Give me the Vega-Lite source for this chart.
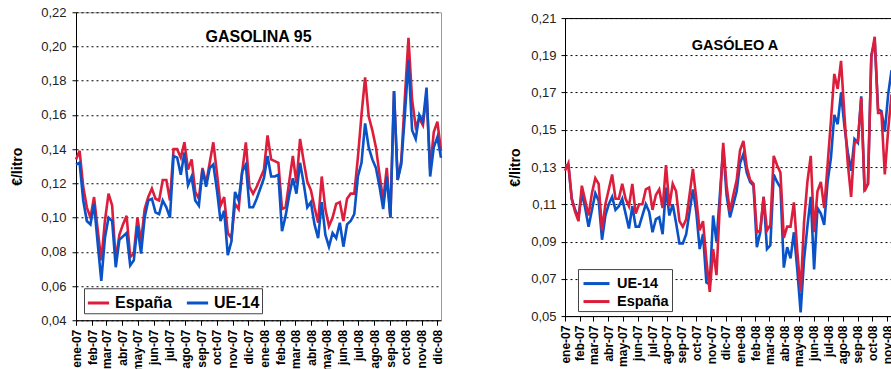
{
  "$schema": "https://vega.github.io/schema/vega-lite/v6.json",
  "padding": {"left": 10, "top": 5, "right": 0, "bottom": 0},
  "background": "white",
  "config": {
    "font": "Liberation Sans",
    "view": {"stroke": null},
    "axisY": {
      "grid": true, "gridDash": [2, 3], "gridColor": "black", "gridOpacity": 1, "gridWidth": 1,
      "domainColor": "black", "tickColor": "black", "tickSize": 4,
      "labelFontSize": 13, "labelColor": "#222",
      "labelExpr": "replace(format(datum.value, '.2f'), '.', ',')",
      "titleFontSize": 14, "titleFontWeight": "bold", "titleColor": "black"
    },
    "axisX": {
      "grid": false, "domainColor": "black", "tickColor": "black", "tickSize": 5,
      "labelPadding": 4, "labelAngle": -90, "labelFontSize": 12, "labelFontWeight": "bold", "labelColor": "black",
      "labelOverlap": false, "labelFlush": false,
      "tickCount": {"interval": "month", "step": 1},
      "labelExpr": "['ene','feb','mar','abr','may','jun','jul','ago','sep','oct','nov','dic'][utcmonth(datum.value)] + '-' + utcFormat(datum.value, '%y')"
    }
  },
  "datasets": {
    "gasolina": [
      {"semana": "2007-01-01", "España": 0.134, "UE-14": 0.131},
      {"semana": "2007-01-08", "España": 0.139, "UE-14": 0.132},
      {"semana": "2007-01-15", "España": 0.118, "UE-14": 0.110},
      {"semana": "2007-01-22", "España": 0.106, "UE-14": 0.098},
      {"semana": "2007-01-29", "España": 0.100, "UE-14": 0.096},
      {"semana": "2007-02-05", "España": 0.112, "UE-14": 0.108},
      {"semana": "2007-02-12", "España": 0.093, "UE-14": 0.085},
      {"semana": "2007-02-19", "España": 0.075, "UE-14": 0.063},
      {"semana": "2007-02-26", "España": 0.098, "UE-14": 0.088},
      {"semana": "2007-03-05", "España": 0.114, "UE-14": 0.100},
      {"semana": "2007-03-12", "España": 0.107, "UE-14": 0.098},
      {"semana": "2007-03-19", "España": 0.075, "UE-14": 0.071},
      {"semana": "2007-03-26", "España": 0.090, "UE-14": 0.087},
      {"semana": "2007-04-02", "España": 0.096, "UE-14": 0.089},
      {"semana": "2007-04-09", "España": 0.101, "UE-14": 0.091},
      {"semana": "2007-04-16", "España": 0.077, "UE-14": 0.072},
      {"semana": "2007-04-23", "España": 0.079, "UE-14": 0.075},
      {"semana": "2007-04-30", "España": 0.100, "UE-14": 0.095},
      {"semana": "2007-05-07", "España": 0.086, "UE-14": 0.079},
      {"semana": "2007-05-14", "España": 0.105, "UE-14": 0.100},
      {"semana": "2007-05-21", "España": 0.112, "UE-14": 0.110},
      {"semana": "2007-05-28", "España": 0.117, "UE-14": 0.111},
      {"semana": "2007-06-04", "España": 0.111, "UE-14": 0.103},
      {"semana": "2007-06-11", "España": 0.110, "UE-14": 0.102},
      {"semana": "2007-06-18", "España": 0.122, "UE-14": 0.110},
      {"semana": "2007-06-25", "España": 0.122, "UE-14": 0.106},
      {"semana": "2007-07-02", "España": 0.110, "UE-14": 0.100},
      {"semana": "2007-07-09", "España": 0.140, "UE-14": 0.136},
      {"semana": "2007-07-16", "España": 0.140, "UE-14": 0.135},
      {"semana": "2007-07-23", "España": 0.135, "UE-14": 0.125},
      {"semana": "2007-07-30", "España": 0.144, "UE-14": 0.138},
      {"semana": "2007-08-06", "España": 0.128, "UE-14": 0.119},
      {"semana": "2007-08-13", "España": 0.134, "UE-14": 0.124},
      {"semana": "2007-08-20", "España": 0.115, "UE-14": 0.110},
      {"semana": "2007-08-27", "España": 0.111, "UE-14": 0.107},
      {"semana": "2007-09-03", "España": 0.129, "UE-14": 0.128},
      {"semana": "2007-09-10", "España": 0.120, "UE-14": 0.118},
      {"semana": "2007-09-17", "España": 0.132, "UE-14": 0.129},
      {"semana": "2007-09-24", "España": 0.144, "UE-14": 0.131},
      {"semana": "2007-10-01", "España": 0.126, "UE-14": 0.116},
      {"semana": "2007-10-08", "España": 0.107, "UE-14": 0.098},
      {"semana": "2007-10-15", "España": 0.112, "UE-14": 0.104},
      {"semana": "2007-10-22", "España": 0.091, "UE-14": 0.078},
      {"semana": "2007-10-29", "España": 0.088, "UE-14": 0.086},
      {"semana": "2007-11-05", "España": 0.108, "UE-14": 0.115},
      {"semana": "2007-11-12", "España": 0.105, "UE-14": 0.110},
      {"semana": "2007-11-19", "España": 0.127, "UE-14": 0.127},
      {"semana": "2007-11-26", "España": 0.144, "UE-14": 0.131},
      {"semana": "2007-12-03", "España": 0.118, "UE-14": 0.106},
      {"semana": "2007-12-10", "España": 0.114, "UE-14": 0.106},
      {"semana": "2007-12-17", "España": 0.118, "UE-14": 0.111},
      {"semana": "2007-12-24", "España": 0.123, "UE-14": 0.117},
      {"semana": "2007-12-31", "España": 0.128, "UE-14": 0.123},
      {"semana": "2008-01-07", "España": 0.148, "UE-14": 0.136},
      {"semana": "2008-01-14", "España": 0.134, "UE-14": 0.124},
      {"semana": "2008-01-21", "España": 0.133, "UE-14": 0.124},
      {"semana": "2008-01-28", "España": 0.132, "UE-14": 0.125},
      {"semana": "2008-02-04", "España": 0.105, "UE-14": 0.092},
      {"semana": "2008-02-11", "España": 0.106, "UE-14": 0.101},
      {"semana": "2008-02-18", "España": 0.121, "UE-14": 0.113},
      {"semana": "2008-02-25", "España": 0.136, "UE-14": 0.123},
      {"semana": "2008-03-03", "España": 0.120, "UE-14": 0.114},
      {"semana": "2008-03-10", "España": 0.146, "UE-14": 0.132},
      {"semana": "2008-03-17", "España": 0.133, "UE-14": 0.120},
      {"semana": "2008-03-24", "España": 0.121, "UE-14": 0.106},
      {"semana": "2008-03-31", "España": 0.116, "UE-14": 0.109},
      {"semana": "2008-04-07", "España": 0.106, "UE-14": 0.096},
      {"semana": "2008-04-14", "España": 0.097, "UE-14": 0.088},
      {"semana": "2008-04-21", "España": 0.124, "UE-14": 0.109},
      {"semana": "2008-04-28", "España": 0.105, "UE-14": 0.090},
      {"semana": "2008-05-05", "España": 0.095, "UE-14": 0.083},
      {"semana": "2008-05-12", "España": 0.100, "UE-14": 0.091},
      {"semana": "2008-05-19", "España": 0.108, "UE-14": 0.088},
      {"semana": "2008-05-26", "España": 0.109, "UE-14": 0.097},
      {"semana": "2008-06-02", "España": 0.098, "UE-14": 0.083},
      {"semana": "2008-06-09", "España": 0.111, "UE-14": 0.096},
      {"semana": "2008-06-16", "España": 0.114, "UE-14": 0.098},
      {"semana": "2008-06-23", "España": 0.114, "UE-14": 0.102},
      {"semana": "2008-06-30", "España": 0.135, "UE-14": 0.124},
      {"semana": "2008-07-07", "España": 0.160, "UE-14": 0.132},
      {"semana": "2008-07-14", "España": 0.182, "UE-14": 0.155},
      {"semana": "2008-07-21", "España": 0.159, "UE-14": 0.141},
      {"semana": "2008-07-28", "España": 0.151, "UE-14": 0.134},
      {"semana": "2008-08-04", "España": 0.141, "UE-14": 0.129},
      {"semana": "2008-08-11", "España": 0.125, "UE-14": 0.118},
      {"semana": "2008-08-18", "España": 0.110, "UE-14": 0.105},
      {"semana": "2008-08-25", "España": 0.129, "UE-14": 0.124},
      {"semana": "2008-09-01", "España": 0.100, "UE-14": 0.100},
      {"semana": "2008-09-08", "España": 0.174, "UE-14": 0.174},
      {"semana": "2008-09-15", "España": 0.122, "UE-14": 0.122},
      {"semana": "2008-09-22", "España": 0.133, "UE-14": 0.131},
      {"semana": "2008-09-29", "España": 0.170, "UE-14": 0.160},
      {"semana": "2008-10-06", "España": 0.205, "UE-14": 0.192},
      {"semana": "2008-10-13", "España": 0.169, "UE-14": 0.151},
      {"semana": "2008-10-20", "España": 0.153, "UE-14": 0.146},
      {"semana": "2008-10-27", "España": 0.158, "UE-14": 0.160},
      {"semana": "2008-11-03", "España": 0.154, "UE-14": 0.156},
      {"semana": "2008-11-10", "España": 0.172, "UE-14": 0.176},
      {"semana": "2008-11-17", "España": 0.128, "UE-14": 0.124},
      {"semana": "2008-11-24", "España": 0.150, "UE-14": 0.141},
      {"semana": "2008-12-01", "España": 0.156, "UE-14": 0.147},
      {"semana": "2008-12-08", "España": 0.139, "UE-14": 0.135}
    ],
    "gasoleo": [
      {"semana": "2007-01-01", "UE-14": 0.131, "España": 0.128},
      {"semana": "2007-01-08", "UE-14": 0.131, "España": 0.132},
      {"semana": "2007-01-15", "UE-14": 0.113, "España": 0.113},
      {"semana": "2007-01-22", "UE-14": 0.107, "España": 0.106},
      {"semana": "2007-01-29", "UE-14": 0.103, "España": 0.101},
      {"semana": "2007-02-05", "UE-14": 0.116, "España": 0.120},
      {"semana": "2007-02-12", "UE-14": 0.108, "España": 0.112},
      {"semana": "2007-02-19", "UE-14": 0.098, "España": 0.104},
      {"semana": "2007-02-26", "UE-14": 0.107, "España": 0.116},
      {"semana": "2007-03-05", "UE-14": 0.116, "España": 0.124},
      {"semana": "2007-03-12", "UE-14": 0.112, "España": 0.121},
      {"semana": "2007-03-19", "UE-14": 0.091, "España": 0.096},
      {"semana": "2007-03-26", "UE-14": 0.104, "España": 0.110},
      {"semana": "2007-04-02", "UE-14": 0.110, "España": 0.118},
      {"semana": "2007-04-09", "UE-14": 0.114, "España": 0.126},
      {"semana": "2007-04-16", "UE-14": 0.107, "España": 0.113},
      {"semana": "2007-04-23", "UE-14": 0.109, "España": 0.113},
      {"semana": "2007-04-30", "UE-14": 0.113, "España": 0.121},
      {"semana": "2007-05-07", "UE-14": 0.105, "España": 0.113},
      {"semana": "2007-05-14", "UE-14": 0.097, "España": 0.109},
      {"semana": "2007-05-21", "UE-14": 0.109, "España": 0.121},
      {"semana": "2007-05-28", "UE-14": 0.098, "España": 0.105},
      {"semana": "2007-06-04", "UE-14": 0.098, "España": 0.110},
      {"semana": "2007-06-11", "UE-14": 0.104, "España": 0.110},
      {"semana": "2007-06-18", "UE-14": 0.110, "España": 0.118},
      {"semana": "2007-06-25", "UE-14": 0.106, "España": 0.119},
      {"semana": "2007-07-02", "UE-14": 0.095, "España": 0.107},
      {"semana": "2007-07-09", "UE-14": 0.102, "España": 0.115},
      {"semana": "2007-07-16", "UE-14": 0.103, "España": 0.118},
      {"semana": "2007-07-23", "UE-14": 0.094, "España": 0.108},
      {"semana": "2007-07-30", "UE-14": 0.119, "España": 0.131},
      {"semana": "2007-08-06", "UE-14": 0.104, "España": 0.109},
      {"semana": "2007-08-13", "UE-14": 0.110, "España": 0.121},
      {"semana": "2007-08-20", "UE-14": 0.100, "España": 0.117},
      {"semana": "2007-08-27", "UE-14": 0.089, "España": 0.101},
      {"semana": "2007-09-03", "UE-14": 0.089, "España": 0.098},
      {"semana": "2007-09-10", "UE-14": 0.094, "España": 0.102},
      {"semana": "2007-09-17", "UE-14": 0.106, "España": 0.115},
      {"semana": "2007-09-24", "UE-14": 0.118, "España": 0.129},
      {"semana": "2007-10-01", "UE-14": 0.106, "España": 0.113},
      {"semana": "2007-10-08", "UE-14": 0.086, "España": 0.096},
      {"semana": "2007-10-15", "UE-14": 0.094, "España": 0.101},
      {"semana": "2007-10-22", "UE-14": 0.068, "España": 0.080},
      {"semana": "2007-10-29", "UE-14": 0.067, "España": 0.063},
      {"semana": "2007-11-05", "UE-14": 0.104, "España": 0.086},
      {"semana": "2007-11-12", "UE-14": 0.090, "España": 0.072},
      {"semana": "2007-11-19", "UE-14": 0.115, "España": 0.110},
      {"semana": "2007-11-26", "UE-14": 0.140, "España": 0.143},
      {"semana": "2007-12-03", "UE-14": 0.115, "España": 0.120},
      {"semana": "2007-12-10", "UE-14": 0.103, "España": 0.106},
      {"semana": "2007-12-17", "UE-14": 0.110, "España": 0.115},
      {"semana": "2007-12-24", "UE-14": 0.117, "España": 0.123},
      {"semana": "2007-12-31", "UE-14": 0.132, "España": 0.139},
      {"semana": "2008-01-07", "UE-14": 0.137, "España": 0.144},
      {"semana": "2008-01-14", "UE-14": 0.127, "España": 0.130},
      {"semana": "2008-01-21", "UE-14": 0.122, "España": 0.123},
      {"semana": "2008-01-28", "UE-14": 0.120, "España": 0.121},
      {"semana": "2008-02-04", "UE-14": 0.087, "España": 0.095},
      {"semana": "2008-02-11", "UE-14": 0.095, "España": 0.096},
      {"semana": "2008-02-18", "UE-14": 0.114, "España": 0.114},
      {"semana": "2008-02-25", "UE-14": 0.086, "España": 0.096},
      {"semana": "2008-03-03", "UE-14": 0.088, "España": 0.099},
      {"semana": "2008-03-10", "UE-14": 0.126, "España": 0.136},
      {"semana": "2008-03-17", "UE-14": 0.122, "España": 0.131},
      {"semana": "2008-03-24", "UE-14": 0.119, "España": 0.127},
      {"semana": "2008-03-31", "UE-14": 0.076, "España": 0.092},
      {"semana": "2008-04-07", "UE-14": 0.087, "España": 0.098},
      {"semana": "2008-04-14", "UE-14": 0.081, "España": 0.098},
      {"semana": "2008-04-21", "UE-14": 0.095, "España": 0.111},
      {"semana": "2008-04-28", "UE-14": 0.075, "España": 0.085},
      {"semana": "2008-05-05", "UE-14": 0.052, "España": 0.063},
      {"semana": "2008-05-12", "UE-14": 0.080, "España": 0.100},
      {"semana": "2008-05-19", "UE-14": 0.098, "España": 0.122},
      {"semana": "2008-05-26", "UE-14": 0.114, "España": 0.136},
      {"semana": "2008-06-02", "UE-14": 0.075, "España": 0.095},
      {"semana": "2008-06-09", "UE-14": 0.108, "España": 0.117},
      {"semana": "2008-06-16", "UE-14": 0.105, "España": 0.122},
      {"semana": "2008-06-23", "UE-14": 0.099, "España": 0.108},
      {"semana": "2008-06-30", "UE-14": 0.122, "España": 0.131},
      {"semana": "2008-07-07", "UE-14": 0.135, "España": 0.155},
      {"semana": "2008-07-14", "UE-14": 0.158, "España": 0.180},
      {"semana": "2008-07-21", "UE-14": 0.153, "España": 0.172},
      {"semana": "2008-07-28", "UE-14": 0.170, "España": 0.187},
      {"semana": "2008-08-04", "UE-14": 0.152, "España": 0.158},
      {"semana": "2008-08-11", "UE-14": 0.138, "España": 0.132},
      {"semana": "2008-08-18", "UE-14": 0.128, "España": 0.114},
      {"semana": "2008-08-25", "UE-14": 0.145, "España": 0.143},
      {"semana": "2008-09-01", "UE-14": 0.143, "España": 0.144},
      {"semana": "2008-09-08", "UE-14": 0.168, "España": 0.167},
      {"semana": "2008-09-15", "UE-14": 0.118, "España": 0.117},
      {"semana": "2008-09-22", "UE-14": 0.121, "España": 0.121},
      {"semana": "2008-09-29", "UE-14": 0.190, "España": 0.189},
      {"semana": "2008-10-06", "UE-14": 0.198, "España": 0.200},
      {"semana": "2008-10-13", "UE-14": 0.161, "España": 0.159},
      {"semana": "2008-10-20", "UE-14": 0.160, "España": 0.159},
      {"semana": "2008-10-27", "UE-14": 0.149, "España": 0.126},
      {"semana": "2008-11-03", "UE-14": 0.169, "España": 0.150},
      {"semana": "2008-11-10", "UE-14": 0.182, "España": 0.169},
      {"semana": "2008-11-17", "UE-14": 0.169, "España": 0.155},
      {"semana": "2008-11-24", "UE-14": 0.175, "España": 0.162},
      {"semana": "2008-12-01", "UE-14": 0.170, "España": 0.165},
      {"semana": "2008-12-08", "UE-14": 0.160, "España": 0.152}
    ]
  },
  "spacing": 61,
  "center": true,
  "resolve": {
    "scale": {"x": "independent", "y": "independent", "color": "independent"},
    "legend": {"color": "independent"}
  },
  "hconcat": [
    {
      "width": 365,
      "height": 308,
      "data": {"name": "gasolina"},
      "transform": [{"fold": ["España", "UE-14"], "as": ["serie", "valor"]}],
      "title": {"text": "GASOLINA 95", "fontSize": 16, "fontWeight": "bold", "color": "black", "anchor": "middle", "offset": -39},
      "view": {"stroke": "#9a9a9a"},
      "mark": {"type": "line", "strokeWidth": 2.6},
      "encoding": {
        "x": {
          "field": "semana", "type": "temporal", "scale": {"type": "utc", "nice": false},
          "axis": {"title": null, "minExtent": 52, "maxExtent": 52}
        },
        "y": {
          "field": "valor", "type": "quantitative",
          "scale": {"domain": [0.04, 0.22], "nice": false, "zero": false},
          "axis": {"title": "€/litro", "values": [0.04, 0.06, 0.08, 0.1, 0.12, 0.14, 0.16, 0.18, 0.2, 0.22], "labelPadding": 6, "titlePadding": 16}
        },
        "color": {
          "field": "serie", "type": "nominal",
          "scale": {"domain": ["España", "UE-14"], "range": ["#dc1e3c", "#0a52c8"]},
          "legend": {
            "title": null, "orient": "none", "legendX": 8, "legendY": 276, "direction": "horizontal",
            "symbolType": "stroke", "symbolStrokeWidth": 3, "symbolSize": 450,
            "labelFontSize": 16, "labelFontWeight": "bold", "labelColor": "black",
            "strokeColor": "#444", "fillColor": "white", "padding": 2, "columnPadding": 8
          }
        }
      }
    },
    {
      "width": 340,
      "height": 298,
      "data": {"name": "gasoleo"},
      "transform": [{"fold": ["UE-14", "España"], "as": ["serie", "valor"]}],
      "title": {"text": "GASÓLEO A", "fontSize": 14.5, "fontWeight": "bold", "color": "black", "anchor": "middle", "offset": -41},
      "view": {"stroke": "black"},
      "mark": {"type": "line", "strokeWidth": 2.6},
      "encoding": {
        "x": {
          "field": "semana", "type": "temporal", "scale": {"type": "utc", "nice": false},
          "axis": {"title": null, "minExtent": 46, "maxExtent": 46}
        },
        "y": {
          "field": "valor", "type": "quantitative",
          "scale": {"domain": [0.05, 0.21], "nice": false, "zero": false},
          "axis": {"title": "€/litro", "values": [0.05, 0.07, 0.09, 0.11, 0.13, 0.15, 0.17, 0.19, 0.21], "labelPadding": 5, "titlePadding": 8}
        },
        "color": {
          "field": "serie", "type": "nominal",
          "scale": {"domain": ["UE-14", "España"], "range": ["#0a52c8", "#dc1e3c"]},
          "legend": {
            "title": null, "orient": "none", "legendX": 13, "legendY": 251, "direction": "vertical",
            "symbolType": "M-1.3,0H1.3", "symbolStrokeWidth": 3, "symbolSize": 400, "symbolOffset": 4, "labelOffset": 9,
            "labelFontSize": 14.5, "labelFontWeight": "bold", "labelColor": "black",
            "strokeColor": "#444", "fillColor": "white", "padding": 3, "rowPadding": 0
          }
        }
      }
    }
  ]
}
